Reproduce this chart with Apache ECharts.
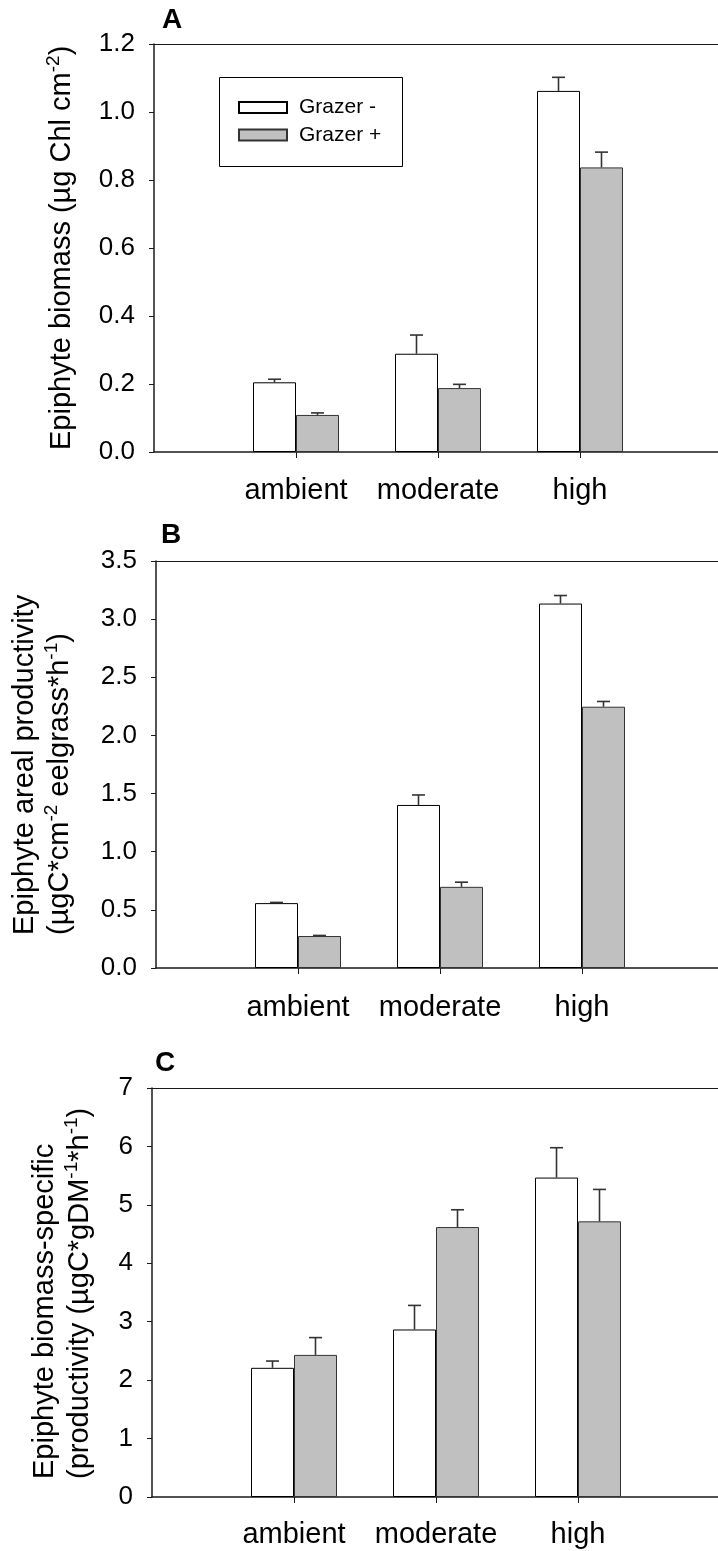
<!DOCTYPE html>
<html>
<head>
<meta charset="utf-8">
<script src="https://cdn.jsdelivr.net/npm/echarts@6/dist/echarts.min.js"></script>
<style>
html,body{margin:0;padding:0;background:#fff;}
#chart{width:718px;height:1551px;}
</style>
</head>
<body>
<div id="chart"></div>
<script>
// ---- data ----
const categories = ['ambient', 'moderate', 'high'];
const catPos = [1, 2, 3];
const seriesNames = ['Grazer -', 'Grazer +'];

const minusA = [0.205, 0.289, 1.062];
const minusErrA = [0.009, 0.055, 0.040];
const plusA = [0.109, 0.188, 0.837];
const plusErrA = [0.006, 0.011, 0.045];

const minusB = [0.558, 1.402, 3.134];
const minusErrB = [0.006, 0.086, 0.069];
const plusB = [0.275, 0.698, 2.247];
const plusErrB = [0.005, 0.040, 0.045];

const minusC = [2.211, 2.867, 5.467];
const minusErrC = [0.116, 0.412, 0.511];
const plusC = [2.432, 4.620, 4.718];
const plusErrC = [0.296, 0.296, 0.546];

const tickLabelsA = ['0.0', '0.2', '0.4', '0.6', '0.8', '1.0', '1.2'];
const tickLabelsB = ['0.0', '0.5', '1.0', '1.5', '2.0', '2.5', '3.0', '3.5'];
const tickLabelsC = ['0', '1', '2', '3', '4', '5', '6', '7'];

const titleA = '{t|Epiphyte biomass (µg Chl cm}{s|-2}{t|)}';
const titleB = '{t|Epiphyte areal productivity}\n{t|(µgC*cm}{s|-2}{t| eelgrass*h}{s|-1}{t|)}';
const titleC = '{t|Epiphyte biomass-specific}\n{t|(productivity (µgC*gDM}{s|-1}{t|*h}{s|-1}{t|)}';

// ---- layout / style ----
const FONT = "'Liberation Sans', Arial, sans-serif";
const panels = [
  { label: 'A', left: 154, top: 44, height: 408, max: 1.2, interval: 0.2, ticks: tickLabelsA, name: titleA, nameX: 79.5, nameY: 450, labelTop: 6, labelLeft: 162, minus: minusA, minusErr: minusErrA, plus: plusA, plusErr: plusErrA, catMargin: 24 },
  { label: 'B', left: 156, top: 561, height: 407, max: 3.5, interval: 0.5, ticks: tickLabelsB, name: titleB, nameX: 77, nameY: 935, labelTop: 521, labelLeft: 161, minus: minusB, minusErr: minusErrB, plus: plusB, plusErr: plusErrB, catMargin: 25 },
  { label: 'C', left: 152, top: 1088, height: 409, max: 7, interval: 1, ticks: tickLabelsC, name: titleC, nameX: 97.5, nameY: 1479, labelTop: 1049, labelLeft: 155, minus: minusC, minusErr: minusErrC, plus: plusC, plusErr: plusErrC, catMargin: 23 }
];
const UNIT = 142; // px per category step
const BAR_W = 43;
const axisColor = '#1a1a1a';
const nameRich = {
  t: { fontFamily: FONT, fontSize: 29, color: '#000', lineHeight: 35 },
  s: { fontFamily: FONT, fontSize: 19, color: '#000', lineHeight: 10, verticalAlign: 'top' }
};

const grid = [], xAxis = [], yAxis = [], series = [], title = [];
const graphic = [{ type: 'rect', left: 219, top: 77, z: 1,
  shape: { width: 183, height: 89 },
  style: { fill: '#fff', stroke: '#000', lineWidth: 1 } }];

panels.forEach((p, k) => {
  const xmax = (718 - p.left) / UNIT;
  grid.push({ left: p.left, top: p.top, height: p.height, right: 0, containLabel: false });
  title.push({ text: p.label, left: p.labelLeft, top: p.labelTop, padding: 0,
    textStyle: { fontFamily: FONT, fontWeight: 'bold', fontSize: 28, color: '#000' } });
  graphic.push({ type: 'text', x: p.nameX, y: p.nameY, rotation: Math.PI / 2, z: 5,
    style: { text: p.name, rich: nameRich, fontFamily: FONT, fontSize: 29, fill: '#000',
      align: 'left', verticalAlign: 'bottom' } });
  xAxis.push({
    type: 'value', gridIndex: k, min: 0, max: xmax, position: 'bottom',
    splitLine: { show: false },
    axisLine: { show: true, onZero: false, lineStyle: { color: axisColor, width: 1.5 } },
    axisTick: { show: true, length: 6, customValues: catPos, lineStyle: { color: axisColor, width: 1 } },
    axisLabel: { customValues: catPos, margin: p.catMargin, fontFamily: FONT, fontSize: 29, color: '#000',
      formatter: v => categories[catPos.indexOf(Math.round(v))] || '' }
  });
  xAxis.push({
    type: 'value', gridIndex: k, min: 0, max: xmax, position: 'top',
    splitLine: { show: false }, axisTick: { show: false }, axisLabel: { show: false },
    axisLine: { show: true, onZero: false, lineStyle: { color: axisColor, width: 1.2 } }
  });
  yAxis.push({
    type: 'value', gridIndex: k, min: 0, max: p.max, interval: p.interval,
    splitLine: { show: false },
    axisLine: { show: true, onZero: false, lineStyle: { color: axisColor, width: 1.5 } },
    axisTick: { show: true, length: 5, lineStyle: { color: axisColor, width: 1 } },
    axisLabel: { margin: 19, fontFamily: FONT, fontSize: 26, color: '#000',
      formatter: (v, i) => p.ticks[i] }
  });
  const xi = k * 2;
  const groups = [
    { name: seriesNames[0], vals: p.minus, errs: p.minusErr, color: '#ffffff', border: '#000000', off: -BAR_W / 2 },
    { name: seriesNames[1], vals: p.plus, errs: p.plusErr, color: '#c0c0c0', border: '#333333', off: BAR_W / 2 }
  ];
  groups.forEach(g => {
    series.push({
      type: 'bar', name: g.name, xAxisIndex: xi, yAxisIndex: k,
      barWidth: BAR_W, barGap: '0%',
      itemStyle: { color: g.color, borderColor: g.border, borderWidth: 1 },
      data: catPos.map((c, i) => [c, g.vals[i]]),
      silent: true, animation: false
    });
  });
  groups.forEach(g => {
    series.push({
      type: 'custom', name: g.name + ' err', xAxisIndex: xi, yAxisIndex: k, z: 5,
      data: catPos.map((c, i) => [c, g.vals[i], g.errs[i]]),
      renderItem: (params, api) => {
        const x = api.value(0), y = api.value(1), e = api.value(2);
        const p0 = api.coord([x, y]);
        const p1 = api.coord([x, y + e]);
        const cx = p0[0] + g.off;
        const st = { stroke: '#333', lineWidth: 1.6 };
        return { type: 'group', children: [
          { type: 'line', shape: { x1: cx, y1: p0[1], x2: cx, y2: p1[1] }, style: st },
          { type: 'line', shape: { x1: cx - 6.5, y1: p1[1], x2: cx + 6.5, y2: p1[1] }, style: st }
        ] };
      },
      silent: true, animation: false
    });
  });
});

const chart = echarts.init(document.getElementById('chart'), null, { renderer: 'canvas' });
chart.setOption({
  animation: false,
  backgroundColor: '#fff',
  title: title,
  grid: grid,
  xAxis: xAxis,
  yAxis: yAxis,
  graphic: graphic,
  legend: {
    data: seriesNames, orient: 'vertical', left: 238, top: 97, padding: 0, z: 10,
    itemWidth: 48, itemHeight: 11, itemGap: 6.5, selectedMode: false,
    icon: 'rect',
    textStyle: { fontFamily: FONT, fontSize: 21, color: '#000', padding: [0, 0, 0, 7] }
  },
  series: series
});
</script>
</body>
</html>
